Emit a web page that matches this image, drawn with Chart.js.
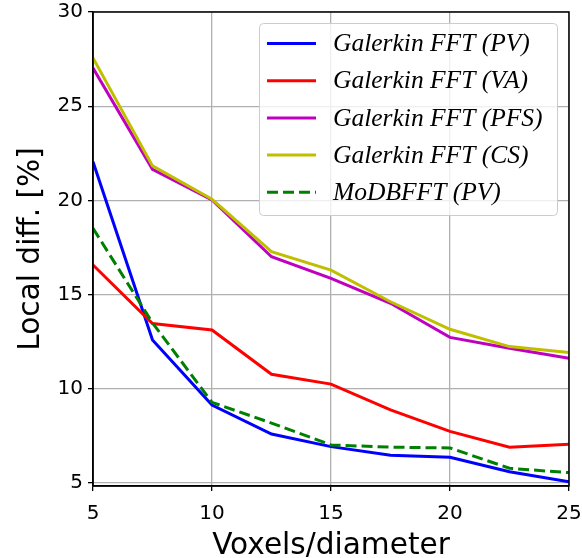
<!DOCTYPE html>
<html>
<head>
<meta charset="utf-8">
<script src="https://cdn.jsdelivr.net/npm/chart.js@4"></script>
<style>
  body { margin: 0; background: #fff; }
  canvas { display: block; }
</style>
</head>
<body>
<canvas id="chart" width="582" height="558"></canvas>
<script>
// voxels per diameter (x axis)
const voxels = [5, 7.5, 10, 12.5, 15, 17.5, 20, 22.5, 25];

// local difference in %
const galerkinPV  = [22.05, 12.59, 9.14, 7.60, 6.93, 6.47, 6.36, 5.60, 5.07];
const galerkinVA  = [16.57, 13.46, 13.12, 10.77, 10.25, 8.88, 7.74, 6.90, 7.05];
const galerkinPFS = [27.03, 21.65, 20.02, 17.01, 15.86, 14.54, 12.73, 12.15, 11.62];
const galerkinCS  = [27.56, 21.83, 20.06, 17.28, 16.30, 14.62, 13.16, 12.24, 11.92];
const modbfftPV   = [18.52, 13.50, 9.28, 8.18, 7.02, 6.90, 6.86, 5.78, 5.55];

const seriesLabels = [
    'Galerkin FFT (PV)',
    'Galerkin FFT (VA)',
    'Galerkin FFT (PFS)',
    'Galerkin FFT (CS)',
    'MoDBFFT (PV)'
];

const xTicks = [5, 10, 15, 20, 25];
const yTicks = [5, 10, 15, 20, 25, 30];

function points(values) {
    return voxels.map((x, i) => ({ x: x, y: values[i] }));
}

function makeSet(label, values, color, dash, order) {
    return {
        label: label,
        data: points(values),
        borderColor: color,
        backgroundColor: color,
        borderWidth: 3,
        borderDash: dash,
        pointRadius: 0,
        tension: 0,
        fill: false,
        order: order
    };
}

// draws the top/right spines and the boxed legend inside the plot
const framePlugin = {
    id: 'frame',
    afterDatasetsDraw(chart) {
        const ctx = chart.ctx;
        const a = chart.chartArea;
        ctx.save();
        ctx.strokeStyle = '#000';
        ctx.lineWidth = 1.5;
        ctx.strokeRect(a.left, a.top, a.right - a.left, a.bottom - a.top);
        ctx.restore();
    },
    afterDraw(chart) {
        const ctx = chart.ctx;
        const box = { x: 259, y: 23, w: 298, h: 192 };
        ctx.save();
        ctx.fillStyle = 'rgba(255,255,255,0.8)';
        ctx.strokeStyle = '#cccccc';
        ctx.lineWidth = 1;
        ctx.beginPath();
        ctx.roundRect(box.x + 0.5, box.y + 0.5, box.w, box.h, 4);
        ctx.fill();
        ctx.stroke();

        ctx.font = 'italic 25.5px "Liberation Serif", "DejaVu Serif", serif';
        ctx.textBaseline = 'middle';
        chart.data.datasets.forEach((ds, i) => {
            const y = 43.5 + i * 37.2;
            ctx.strokeStyle = ds.borderColor;
            ctx.lineWidth = 3;
            ctx.setLineDash(ds.borderDash || []);
            ctx.beginPath();
            ctx.moveTo(267, y);
            ctx.lineTo(316, y);
            ctx.stroke();
            ctx.setLineDash([]);
            ctx.fillStyle = '#000';
            ctx.fillText(ds.label, 333, y + 1);
        });
        ctx.restore();
    }
};

const chart = new Chart(document.getElementById('chart'), {
    type: 'line',
    data: {
        datasets: [
            makeSet(seriesLabels[0], galerkinPV, '#0000ff', [], 5),
            makeSet(seriesLabels[1], galerkinVA, '#ff0000', [], 4),
            makeSet(seriesLabels[2], galerkinPFS, '#bf00bf', [], 3),
            makeSet(seriesLabels[3], galerkinCS, '#bfbf00', [], 2),
            makeSet(seriesLabels[4], modbfftPV, '#008000', [11, 5], 1)
        ]
    },
    options: {
        responsive: false,
        animation: false,
        layout: { padding: { top: 12, right: 13, left: 0, bottom: 0 } },
        plugins: {
            legend: { display: false },
            tooltip: { enabled: false }
        },
        scales: {
            x: {
                type: 'linear',
                min: 5,
                max: 25,
                afterBuildTicks: s => { s.ticks = xTicks.map(v => ({ value: v })); },
                afterFit: s => {
                    s.height = 72;
                    s.paddingLeft = 0;
                    s.paddingRight = 0;
                },
                grid: { color: '#b0b0b0', tickColor: '#000', tickLength: 5, lineWidth: 1.3 },
                border: { color: '#000', width: 1.5 },
                ticks: {
                    color: '#000',
                    padding: 11,
                    maxRotation: 0,
                    font: { family: '"DejaVu Sans"', size: 20 }
                },
                title: {
                    display: true,
                    text: 'Voxels/diameter',
                    color: '#000',
                    padding: { top: 0, bottom: 0 },
                    font: { family: '"DejaVu Sans"', size: 29.6, lineHeight: 0.8 }
                }
            },
            y: {
                min: 4.84,
                max: 30,
                afterBuildTicks: s => { s.ticks = yTicks.map(v => ({ value: v })); },
                afterFit: s => {
                    s.width = 93;
                    s.paddingTop = 0;
                    s.paddingBottom = 0;
                },
                grid: { color: '#b0b0b0', tickColor: '#000', tickLength: 5, lineWidth: 1.3 },
                border: { color: '#000', width: 1.5 },
                ticks: {
                    color: '#000',
                    padding: 5,
                    font: { family: '"DejaVu Sans"', size: 20 }
                },
                title: {
                    display: true,
                    text: 'Local diff. [%]',
                    color: '#000',
                    padding: { top: 14, bottom: 0 },
                    font: { family: '"DejaVu Sans"', size: 29.6 }
                }
            }
        }
    },
    plugins: [framePlugin]
});
</script>
</body>
</html>
